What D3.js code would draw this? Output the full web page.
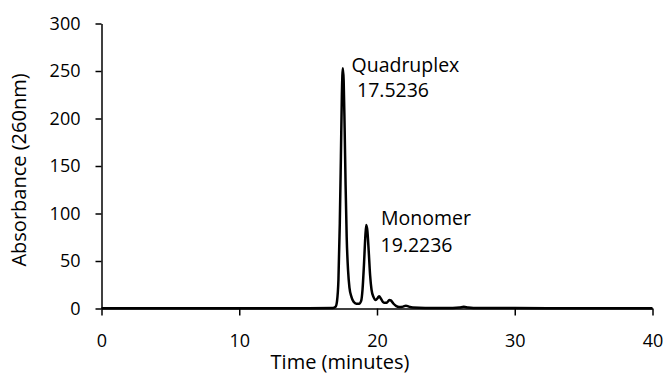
<!DOCTYPE html>
<html>
<head>
<meta charset="utf-8">
<script src="https://cdn.jsdelivr.net/npm/d3@7"></script>
<style>
  body { margin: 0; background: #fff; }
  text { font-family: "Open Sans", sans-serif; fill: #000; }
</style>
</head>
<body>
<div id="chart"></div>
<script>
// chromatogram trace (time in minutes, absorbance)
const times = [0, 5, 10, 15, 16.8, 17.0, 17.1, 17.2, 17.3, 17.38, 17.45, 17.52, 17.58, 17.65, 17.72, 17.8, 17.9, 18.0, 18.15, 18.3, 18.5, 18.7,
  18.85, 18.95, 19.05, 19.15, 19.22, 19.3, 19.4, 19.5, 19.6, 19.75, 19.9, 20.05, 20.15, 20.3, 20.5, 20.7, 20.9, 21.0, 21.2, 21.4, 21.6,
  21.9, 22.1, 22.3, 22.6, 23.5, 25.5, 26.0, 26.3, 26.6, 27.0, 30, 35, 40]
const absorb = [0.3, 0.3, 0.3, 0.3, 0.5, 2, 8, 30, 90, 160, 225, 253, 240, 190, 130, 75, 40, 22, 12, 7, 5, 5,
  8, 20, 45, 75, 88, 82, 60, 35, 20, 12, 9, 11, 13, 10, 6, 6, 9, 8.5, 5, 2.5, 1.5,
  2, 3, 2, 1, 0.5, 0.5, 1, 1.8, 1, 0.5, 0.4, 0.3, 0.3]

const xTicks = [0, 10, 20, 30, 40]
const yTicks = [0, 50, 100, 150, 200, 250, 300]

const peakNames = ['Quadruplex', 'Monomer']
const peakTimes = ['17.5236', '19.2236']

const w = 667
const h = 376

const x = d3.scaleLinear().domain([0, 40]).range([101.5, 652.5])
const y = d3.scaleLinear().domain([0, 300]).range([308.5, 23.5])

const svg = d3.select('#chart')
  .append('svg')
  .attr('width', w)
  .attr('height', h)

svg.append('g')
  .attr('transform', `translate(0,${y(0)})`)
  .call(d3.axisBottom(x).tickValues(xTicks).tickSize(7).tickSizeOuter(0).tickPadding(19))
svg.append('g')
  .attr('transform', `translate(${x(0)},0)`)
  .call(d3.axisLeft(y).tickValues(yTicks).tickSize(6).tickSizeOuter(0).tickPadding(15))

svg.selectAll('.domain, .tick line').attr('stroke', '#000').attr('stroke-width', 1.5)
svg.selectAll('.tick text').attr('font-size', 18).attr('font-family', '"Open Sans", sans-serif')

const points = times.map((t, i) => [t, absorb[i]])
const line = d3.line()
  .x(d => x(d[0]))
  .y(d => y(d[1]))
  .curve(d3.curveMonotoneX)

svg.append('path')
  .datum(points)
  .attr('fill', 'none')
  .attr('stroke', '#000')
  .attr('stroke-width', 2.5)
  .attr('stroke-linejoin', 'round')
  .attr('d', line)

// peak annotations
const ann = svg.append('g').attr('font-size', 19.5)
ann.append('text').attr('x', 351.5).attr('y', 72).text(peakNames[0])
ann.append('text').attr('x', 357).attr('y', 97).text(peakTimes[0])
ann.append('text').attr('x', 381).attr('y', 225).text(peakNames[1])
ann.append('text').attr('x', 380.5).attr('y', 251.5).text(peakTimes[1])

svg.append('text')
  .attr('x', 340)
  .attr('y', 369)
  .attr('text-anchor', 'middle')
  .attr('font-size', 20)
  .text('Time (minutes)')

svg.append('text')
  .attr('transform', 'translate(26,170) rotate(-90)')
  .attr('text-anchor', 'middle')
  .attr('font-size', 20)
  .text('Absorbance (260nm)')
</script>
</body>
</html>
